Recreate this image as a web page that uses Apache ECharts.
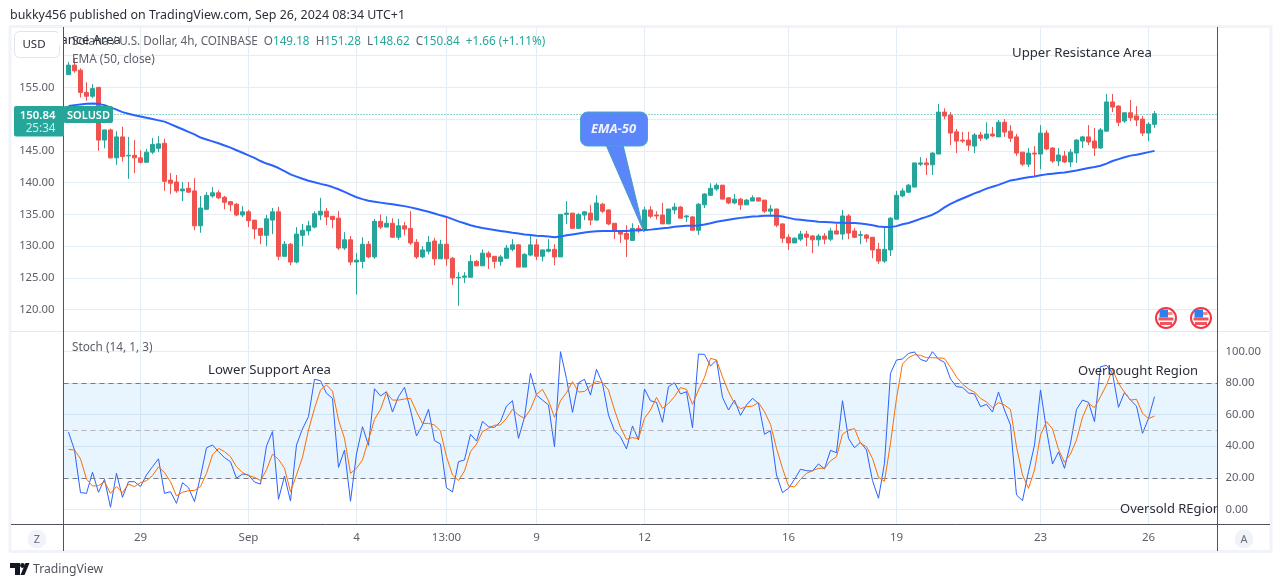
<!DOCTYPE html>
<html>
<head>
<meta charset="utf-8">
<style>html,body{margin:0;padding:0;background:#fff}#c{width:1281px;height:587px}</style>
<script src="https://cdn.jsdelivr.net/npm/echarts@6/dist/echarts.min.js"></script>
</head>
<body>
<div id="c"></div>
<script>
// [open, close, low, high] per 4h bar
const candles = [
[157.0,158.5,157.0,159.0],[158.5,157.6,157.3,159.6],[157.7,154.2,153.4,158.0],[154.2,153.6,152.9,155.8],[153.6,154.8,153.3,155.5],[155.0,146.7,145.0,155.0],[146.7,148.3,145.4,148.3],[148.3,143.9,143.8,148.5],[143.9,147.2,142.8,148.1],[147.2,144.1,143.3,148.8],
[144.2,144.3,140.6,147.2],[144.3,143.9,141.5,146.7],[143.9,143.2,143.0,145.1],[143.2,144.8,143.2,145.3],[144.8,146.0,144.5,147.0],[145.4,146.1,144.8,147.3],[146.2,140.2,138.7,146.9],[140.4,139.9,138.2,141.5],[140.1,138.7,138.4,141.2],[138.7,139.0,137.1,140.1],
[139.1,138.5,138.4,140.1],[138.7,133.2,132.5,140.7],[133.2,136.0,132.1,137.9],[135.8,138.0,135.7,138.5],[137.9,138.4,137.6,139.3],[138.4,137.6,137.4,138.8],[137.7,136.9,135.8,137.9],[137.0,136.5,135.5,137.1],[136.6,134.9,134.7,136.8],[134.9,135.4,134.6,136.3],
[135.4,134.0,133.0,135.7],[134.1,132.7,131.1,134.1],[132.8,131.7,130.3,132.8],[131.7,134.3,130.0,134.9],[134.1,135.4,131.9,136.0],[135.4,128.4,127.8,136.2],[128.4,130.3,128.3,130.8],[130.3,127.5,127.0,130.5],[127.5,131.9,127.3,133.0],[131.7,132.5,130.0,133.5],
[132.4,133.2,131.7,134.0],[133.0,135.1,132.8,135.5],[134.9,135.5,134.1,137.6],[135.5,134.6,133.3,136.0],[134.7,134.2,132.8,134.7],[134.4,129.7,129.4,135.5],[129.7,131.0,129.4,132.2],[131.0,127.5,127.0,131.6],[127.5,127.8,122.4,128.9],[127.6,130.3,126.5,131.4],
[130.3,128.3,128.1,130.8],[128.3,133.9,128.0,134.3],[133.9,133.0,132.7,135.0],[133.0,133.6,133.0,134.7],[133.6,131.4,131.3,134.4],[131.4,133.2,131.0,134.3],[133.2,132.7,131.7,133.8],[132.8,130.5,130.2,135.5],[130.6,128.3,128.0,131.1],[128.3,129.4,128.1,130.0],
[129.2,130.6,128.7,131.6],[130.8,128.0,127.0,131.3],[128.0,130.3,128.0,131.0],[130.3,128.0,126.9,134.6],[128.1,125.0,123.9,128.3],[125.0,125.1,120.6,125.9],[125.1,125.3,124.2,125.9],[125.1,127.6,125.1,128.6],[127.6,126.9,126.9,127.8],[126.9,128.9,126.9,129.5],
[128.9,128.3,126.4,129.2],[128.4,127.6,126.5,128.4],[127.6,128.3,126.9,128.6],[128.1,129.7,128.0,130.2],[129.5,130.2,129.2,131.1],[130.2,126.7,126.7,130.3],[126.7,128.7,126.7,128.9],[128.6,130.2,128.4,131.6],[130.2,128.4,127.8,131.1],[128.4,129.4,127.6,129.5],
[129.2,129.5,129.0,131.1],[129.5,128.3,127.0,130.3],[128.3,135.0,128.3,135.0],[135.0,135.2,133.5,137.1],[135.2,132.8,132.8,135.2],[132.8,135.0,132.7,135.2],[134.9,135.4,134.1,135.5],[135.2,134.1,133.3,136.5],[134.1,136.8,134.0,138.0],[136.6,135.5,135.2,136.8],
[135.7,133.5,133.3,135.8],[133.6,132.4,131.1,133.6],[132.4,131.9,130.5,132.5],[132.0,131.1,128.3,133.3],[130.9,132.8,130.9,133.6],[132.8,132.4,132.1,133.3],[132.5,135.7,132.5,136.2],[135.7,134.7,134.4,136.3],[134.9,134.75,134.2,135.5],[134.9,133.5,133.5,136.8],
[133.5,135.85,133.5,135.85],[135.7,136.15,135.05,136.8],[136.15,134.4,134.4,136.3],[134.6,134.75,133.8,134.9],[134.6,132.5,132.5,134.75],[132.5,136.6,131.75,136.8],[136.5,138.2,136.0,138.35],[138.0,139.1,138.0,139.9],[139.0,139.6,138.7,139.9],[139.6,137.4,137.4,139.6],
[137.6,136.8,136.6,137.7],[136.8,137.4,136.6,138.2],[137.4,136.5,135.7,137.6],[136.5,137.25,136.5,137.4],[137.1,137.6,137.1,138.0],[137.6,137.1,137.0,137.6],[137.25,135.5,135.2,137.25],[135.5,135.85,134.75,136.5],[135.85,133.3,133.0,135.85],[133.5,131.25,130.5,133.6],
[131.4,130.5,129.4,131.9],[130.5,131.25,130.5,131.4],[131.1,131.9,130.8,132.4],[131.9,131.4,130.0,132.4],[131.6,131.0,128.9,131.75],[131.0,131.6,130.0,131.9],[131.6,131.1,130.3,132.05],[131.1,132.4,130.8,132.85],[132.4,131.9,131.9,133.5],[131.9,134.75,131.0,135.7],
[134.75,132.05,131.1,135.05],[132.4,131.4,131.25,132.85],[131.7,131.8,130.3,132.4],[131.75,131.25,130.6,131.9],[131.4,129.4,128.1,131.4],[129.5,127.65,127.2,130.5],[127.65,129.5,127.35,133.15],[129.4,134.4,128.45,134.6],[134.25,138.0,134.25,138.7],[137.9,138.7,137.7,139.1],
[138.5,139.6,138.35,139.8],[139.3,143.1,139.3,143.1],[142.9,143.1,142.6,144.0],[143.1,142.8,141.2,143.85],[142.8,144.65,141.2,144.8],[144.5,151.1,144.5,152.4],[151.1,150.5,150.0,151.7],[150.6,147.8,145.9,151.1],[148.0,146.55,144.65,148.45],[146.7,146.55,146.25,148.0],
[146.7,145.9,145.0,148.0],[145.75,147.5,144.65,147.8],[147.5,147.0,146.55,148.0],[147.0,147.65,146.7,149.5],[147.65,147.35,147.2,148.75],[147.2,149.5,147.2,149.85],[149.5,147.95,147.2,150.0],[148.1,147.0,146.4,149.05],[147.2,144.65,144.2,147.65],[144.8,142.9,142.6,144.8],
[142.9,144.65,142.45,145.45],[144.65,144.5,141.0,145.75],[144.5,147.8,142.1,149.05],[147.8,145.3,145.1,148.25],[145.45,143.4,143.1,145.6],[143.4,144.35,142.6,145.45],[144.2,143.25,143.1,145.0],[143.25,144.8,142.45,145.3],[144.65,146.7,143.1,146.85],[146.55,147.2,145.45,147.35],
[147.2,146.4,145.9,149.05],[146.55,145.45,144.2,148.6],[145.45,148.3,145.3,148.6],[148.1,152.7,148.1,153.95],[152.7,151.9,151.1,153.95],[152.05,149.5,148.9,152.2],[149.7,151.0,149.4,151.0],[151.0,150.2,149.7,153.0],[150.5,149.85,148.9,152.05],[150.0,147.8,147.35,150.5],
[147.8,149.2,146.55,149.5],[149.18,150.84,148.62,151.28]
];
const ema50 = [
152.05,152.2,152.3,152.4,152.45,152.4,152.2,151.85,151.5,151.1,150.85,150.6,150.4,150.2,150,149.8,149.6,149.2,148.8,148.4,148,147.6,147.1,146.8,146.5,146.2,145.85,145.5,145.1,144.7,144.3,143.9,143.4,143,142.7,142.3,141.8,141.3,140.95,140.6,140.3,140.05,139.8,139.6,
139.3,138.95,138.55,138.1,137.7,137.4,137.15,137,136.85,136.7,136.6,136.45,136.3,136.1,135.9,135.65,135.4,135.15,134.85,134.6,134.25,133.9,133.6,133.3,133.05,132.85,132.7,132.55,132.4,132.25,132.1,132,131.85,131.75,131.65,131.6,131.5,131.4,131.5,131.7,131.85,132,132.15,132.25,132.35,132.4,132.4,132.4,132.4,132.4,132.45,132.5,132.55,132.6,
132.7,132.8,132.9,133.05,133.15,133.2,133.2,133.25,133.4,133.6,133.85,134,134.15,134.3,134.45,134.55,134.65,134.7,134.8,134.8,134.8,134.65,134.45,134.25,134.15,134.05,133.95,133.85,133.8,133.75,133.7,133.7,133.65,133.65,133.55,133.45,133.3,133.1,133,133,133.15,133.45,133.65,133.95,134.3,134.6,134.95,135.45,
136.1,136.65,137.1,137.5,137.9,138.3,138.65,139.05,139.35,139.65,140,140.35,140.5,140.7,140.85,140.95,141.15,141.3,141.4,141.5,141.6,141.75,141.9,142.1,142.3,142.45,142.65,143,143.4,143.7,144,144.25,144.4,144.6,144.8,145
];
const stochK = [
49,37.6,10.6,10.1,23.5,10.8,19,1.3,22.8,7.6,17.5,17.5,14.4,21.8,27,32,10.1,11.2,3.8,16.9,13.7,4.9,20.7,39,40.8,36.6,32.8,30.2,19.7,22.4,21.8,17.3,16,40.2,49.3,6.3,21.1,5.3,40.8,51,58.8,82.5,81.6,73.6,70.4,
26.6,37.6,5.1,35.1,52.4,40.6,76.5,71.9,74.6,61.7,71.5,77.4,63,46.5,53.5,63.4,43.6,41.4,13.7,11,30.2,31.3,47.6,43.3,55.8,52.4,52,55.6,65.5,68.9,45,58.4,86.3,72.5,69.3,66.2,39.7,100,83,61.5,80.3,82.5,72.5,88.8,79.9,59.8,49.9,46,38.3,52.9,44,
76.3,68.9,67.9,55.2,77.8,80.3,73.2,74.6,51.8,98.5,98.3,90.9,94.7,71,63,69.3,59.6,66.2,70.4,67.2,47.6,49.9,21.8,10.6,13.3,19,25.4,24.5,24.3,28.8,25.6,37.4,35.9,68.9,45,39.1,42.5,37.6,18.2,7,29.2,86.3,94.7,95.4,98.9,99.8,95.1,93.8,100,
95.3,93.2,82.7,77.8,77.4,73.8,73.2,65.1,66.6,61.7,74.4,63,53.5,9.1,5.5,23.9,40.8,75.7,50.3,28.8,36.4,26,41.9,63.4,69.3,67.9,55.6,90.5,91.3,86.3,64.7,74.2,69.3,65.5,48.2,57.7,71.5
];
const stochD = [
38,37.6,32,19.2,14.8,15,17.5,10.1,14.4,10.6,16,14.4,16.9,18.2,21.4,26.9,23.3,17.5,8.5,10.8,11.8,12,14.4,22.8,34.5,38.7,36.6,33.4,27,23.3,21.4,20.3,18.2,25,35,31.7,26,11.2,21.8,33,50.3,64,75.7,78.9,75,
56.7,45,22.8,26,31.3,44,57,63.4,74,69.3,69.3,70,70.4,62,54.5,54.5,53.5,49.7,33.4,21.8,18.2,24.3,36.6,41.4,49.3,51.4,53.3,53.5,57.7,63.4,59.8,57.7,63.6,72.9,76.1,68.9,58.4,68.9,74,81,74.4,74.8,78.2,81.2,80.3,75.7,63,52,44.4,45.5,44.8,
57.7,63,71,64,67.2,71.5,77.2,76.1,66.6,75.7,83.7,95.8,94.7,84.1,74.6,67.2,63.8,65.1,65.5,67.7,61.9,53.9,38.7,26,14.8,14.2,19,22.8,24.5,26,26,30.7,33.4,47.6,50.3,51.2,41.9,39.7,32.3,20.3,17.8,41.9,70.4,92.2,96.2,98.1,97.7,96.2,96.2,96,
95.8,90,84,79.5,76.3,74.4,70.4,68.1,64.5,67.7,66.2,63.4,39.7,21.8,13.3,24.9,47.1,55.6,51,38,29.8,35.1,44,58.4,67.2,64.5,71.5,78.9,88.8,79.9,74.2,69.3,69.8,60.9,57.5,59.2
];
const xTickBars = [12,30,48,63,78,96,120,138,162,180];
const xTickLabels = ['29','Sep','4','13:00','9','12','16','19','23','26'];
const priceGrid = [120,125,130,135,140,145,150,155,160];
const priceLabels = [120,125,130,135,140,145,155];
const stochTicks = [0,20,40,60,80,100];
const lastPrice = 150.84;

const FONT = '"Noto Sans"';
const GRID = '#e4edf3', TXT = '#5d606b', DARK = '#2a2e39', UP = '#26a69a', DOWN = '#ef5350', SEP = '#50535e';
const T = (x, y, text, fs, color, extra) => ({type:'text', x, y, z:20, style:Object.assign({text, font:`${fs}px ${FONT}`, fill:color, textVerticalAlign:'middle'}, extra||{})});
const R = (x, y, w, h, fill, r, stroke, z) => ({type:'rect', z:z||19, shape:{x,y,width:w,height:h,r:r||0}, style:{fill, stroke:stroke||null, lineWidth:stroke?1:0}});
const L = (x1,y1,x2,y2,color,w) => ({type:'line', z:18, shape:{x1,y1,x2,y2}, style:{stroke:color, lineWidth:w||1}});

function flag(cx, cy){
  return [
    {type:'circle', z:19, shape:{cx,cy,r:10}, style:{fill:'#fff', stroke:'#f23645', lineWidth:2}},
    {type:'rect', z:20, shape:{x:cx+1,y:cy-6,width:5.5,height:3}, style:{fill:'#f58a90'}},
    {type:'rect', z:20, shape:{x:cx-7.5,y:cy-0.5,width:15,height:3}, style:{fill:'#f0545e'}},
    {type:'rect', z:20, shape:{x:cx-6,y:cy+4,width:12,height:3}, style:{fill:'#f0545e'}},
    {type:'rect', z:21, shape:{x:cx-6.5,y:cy-8.5,width:8.5,height:8}, style:{fill:'#2f80ed'}}
  ];
}

const graphic = [
  L(9.5,26.5,1271.5,26.5,'#f0f3fa',3), L(9.5,551.5,1271.5,551.5,'#f0f3fa',3),
  L(10,26,10,552,'#f0f3fa',3), L(1271,26,1271,552,'#f0f3fa',3),
  L(10,331.5,1270,331.5,'#e4e7ee',1),
  L(11,524.5,1270,524.5,SEP,1),
  L(63.5,27,63.5,551,SEP,1), L(1217.5,27,1217.5,551,SEP,1),
  T(10,15.5,'bukky456 published on TradingView.com, Sep 26, 2024 08:34 UTC+1',12.45,DARK),
  R(14.5,31.5,45,26,'#fff',5,'#e0e3eb'),
  T(34,45,'USD',11.5,DARK,{textAlign:'center'}),
  {type:'text', x:72, y:42, z:20, style:{
    text:'Solana / U.S. Dollar, 4h, COINBASE  O{u|149.18}  H{u|151.28}  L{u|148.62}  C{u|150.84}  {u|+1.66 (+1.11%)}',
    font:`11.7px ${FONT}`, fill:TXT, textVerticalAlign:'middle',
    rich:{u:{fill:UP, font:`11.7px ${FONT}`}}
  }},
  T(60.5,40.5,'ance Area',13,DARK),
  R(55,33,8,13,'#fff',0,null,20),
  {...L(63.5,27,63.5,60,SEP,1), z:22},
  T(72,60,'EMA (50, close)',11.8,TXT),
  T(72,348,'Stoch (14, 1, 3)',11.8,TXT),
  T(1012,53,'Upper Resistance Area',13.2,DARK),
  T(208,370.5,'Lower Support Area',13.2,DARK),
  T(1078,371.5,'Overbought Region',13,DARK),
  T(1120,509,'Oversold REgion',13,DARK),
  R(1218,498,7,20,'#fff',0,null,21),
  {...L(1217.5,498,1217.5,518,SEP,1), z:22},
  // current price tags
  R(14,106,50,30.5,UP,2),
  T(55.5,115.5,'150.84',11.4,'#fff',{textAlign:'right', font:`600 11.4px ${FONT}`}),
  T(55.5,129,'25:34',11.7,'#cfeee9',{textAlign:'right'}),
  R(63.5,106,49.5,17,UP,2),
  T(88.5,115.5,'SOLUSD',11,'#fff',{textAlign:'center', font:`600 11px ${FONT}`}),
  // EMA-50 callout
  {type:'polygon', z:19, shape:{points:[[606,145],[623,145],[644,232]]}, style:{fill:'#5b85fb', stroke:'#3f9fc0', lineWidth:1}},
  R(580.5,112,67,34,'#5b85fb',7,'#45a8c8',20),
  T(613.5,129.5,'EMA-50',13,'#eef3ff',{textAlign:'center', font:`italic bold 13px ${FONT}`}),
  ...flag(1166,318), ...flag(1201,318),
  {type:'circle', z:19, shape:{cx:37,cy:539,r:9.5}, style:{fill:'#f0f3fa'}},
  T(37,540,'Z',11,'#6a6d78',{textAlign:'center'}),
  {type:'circle', z:19, shape:{cx:1244,cy:539,r:9.5}, style:{fill:'#f0f3fa'}},
  T(1244,540,'A',11,'#6a6d78',{textAlign:'center'}),
  // TradingView logo
  {type:'polygon', z:20, shape:{points:[[10,563],[20,563],[20,575],[15,575],[15,568],[10,568]]}, style:{fill:'#131722'}},
  {type:'circle', z:20, shape:{cx:22.5,cy:565.5,r:2.4}, style:{fill:'#131722'}},
  {type:'polygon', z:20, shape:{points:[[20.5,575],[25.5,563],[29.5,563],[24.5,575]]}, style:{fill:'#131722'}},
  T(33,570,'TradingView',12.2,'#50535e')
];

const bars = candles.map((c,i)=>[i,c[0],c[1],c[2],c[3]]);
const axisLabelY = {color:TXT, fontFamily:FONT, fontSize:11.3, padding:[2,0,0,0]};

const option = {
  animation:false,
  backgroundColor:'#fff',
  textStyle:{fontFamily:FONT},
  graphic,
  grid:[
    {left:63.5, width:1154, top:27, height:304, containLabel:false},
    {left:63.5, width:1154, top:332, height:192, containLabel:false}
  ],
  xAxis:[
    {type:'value', gridIndex:0, min:-0.8333, max:191.5, axisLine:{show:false}, axisTick:{show:false, customValues:xTickBars},
     axisLabel:{show:false, customValues:xTickBars}, splitLine:{show:true, lineStyle:{color:GRID, width:1}}},
    {type:'value', gridIndex:1, min:-0.8333, max:191.5, axisLine:{show:false}, axisTick:{show:false, customValues:xTickBars},
     axisLabel:{show:true, customValues:xTickBars, color:TXT, fontFamily:FONT, fontSize:11.5, margin:8,
       formatter:v=>xTickLabels[xTickBars.indexOf(Math.round(v))]||''},
     splitLine:{show:true, lineStyle:{color:GRID, width:1}}}
  ],
  yAxis:[
    {type:'value', gridIndex:0, min:116.64, max:164.5, position:'left', axisLine:{show:false},
     axisTick:{show:false, customValues:priceGrid},
     axisLabel:Object.assign({customValues:priceLabels, margin:9, formatter:v=>v.toFixed(2)}, axisLabelY),
     splitLine:{show:true, lineStyle:{color:GRID, width:1}}},
    {type:'value', gridIndex:1, min:-9.33, max:112.5, position:'right', axisLine:{show:false},
     axisTick:{show:false, customValues:stochTicks},
     axisLabel:Object.assign({customValues:stochTicks, margin:8, formatter:v=>v.toFixed(2)}, axisLabelY),
     splitLine:{show:true, lineStyle:{color:GRID, width:1}}}
  ],
  series:[
    {type:'candlestick', name:'SOLUSD', xAxisIndex:0, yAxisIndex:0, data:bars, encode:{x:0,y:[1,2,3,4]}, barWidth:4, z:3,
     itemStyle:{color:UP, color0:DOWN, borderColor:UP, borderColor0:DOWN, borderWidth:1},
     markLine:{silent:true, symbol:'none', label:{show:false}, z:2,
       lineStyle:{color:UP, type:[1,2], width:1, opacity:1}, data:[{yAxis:lastPrice}]}},
    {type:'line', name:'EMA (50, close)', xAxisIndex:0, yAxisIndex:0, data:ema50.map((v,i)=>[i,v]), showSymbol:false, z:4,
     lineStyle:{color:'#2962ff', width:2}, itemStyle:{color:'#2962ff'}},
    {type:'line', name:'%K', xAxisIndex:1, yAxisIndex:1, data:stochK.map((v,i)=>[i,v]), showSymbol:false, z:4,
     lineStyle:{color:'#2962ff', width:1}, itemStyle:{color:'#2962ff'},
     markArea:{silent:true, itemStyle:{color:'rgba(33,150,243,0.1)'}, data:[[{yAxis:20},{yAxis:80}]]},
     markLine:{silent:true, symbol:'none', label:{show:false},
       data:[
         {yAxis:80, lineStyle:{color:'#787b86', type:[5,4], width:1}},
         {yAxis:50, lineStyle:{color:'#b2b5be', type:[5,4], width:1}},
         {yAxis:20, lineStyle:{color:'#787b86', type:[5,4], width:1}}
       ]}},
    {type:'line', name:'%D', xAxisIndex:1, yAxisIndex:1, data:stochD.map((v,i)=>[i,v]), showSymbol:false, z:5,
     lineStyle:{color:'#ff6d00', width:1}, itemStyle:{color:'#ff6d00'}}
  ]
};
const chart = echarts.init(document.getElementById('c'), null, {renderer:'canvas', width:1281, height:587});
chart.setOption(option);
</script>
</body>
</html>
